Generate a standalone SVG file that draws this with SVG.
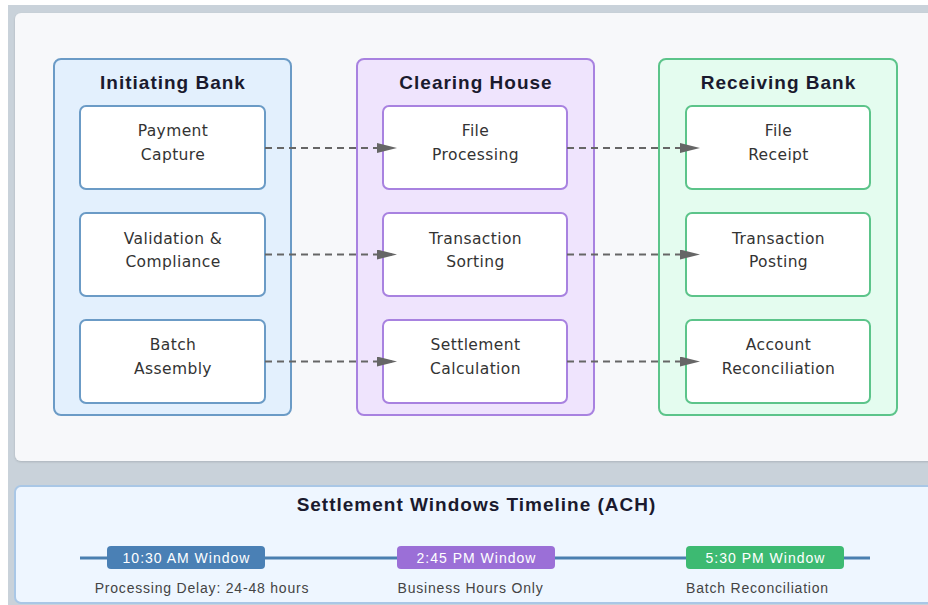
<svg xmlns="http://www.w3.org/2000/svg" width="928" height="605" viewBox="0 0 928 605">
<defs>
<marker id="ah" viewBox="0 0 20 10" refX="19" refY="5" markerWidth="20" markerHeight="10" markerUnits="userSpaceOnUse" orient="auto"><path d="M0,0 L20,5 L0,10 Z" fill="#666"/></marker>
<filter id="sh" x="-5%" y="-5%" width="110%" height="110%"><feDropShadow dx="0" dy="1" stdDeviation="1.2" flood-color="#000" flood-opacity="0.15"/></filter>
</defs>
<style>
.title{font-family:"Liberation Sans",Arial,sans-serif;font-weight:bold;font-size:19px;letter-spacing:1px;fill:#1a1a2e;text-anchor:middle}
.nt{font-family:"DejaVu Sans","Liberation Sans",sans-serif;font-size:15.5px;letter-spacing:0.4px;fill:#333;text-anchor:middle}
.node{fill:#fff;stroke-width:2}
.blue .node{stroke:#6b9bc6}
.purple .node{stroke:#a882e0}
.green .node{stroke:#5cc48a}
.conn line{stroke:#666;stroke-width:2;stroke-dasharray:7,5;marker-end:url(#ah)}
.pill{font-family:"Liberation Sans",Arial,sans-serif;font-size:14px;letter-spacing:1px;fill:#fff;text-anchor:middle}
.lbl{font-family:"Liberation Sans",Arial,sans-serif;font-size:14px;letter-spacing:0.8px;fill:#444;text-anchor:middle}
</style>
<rect x="0" y="0" width="928" height="605" fill="#fff"/>
<rect x="8" y="5" width="930" height="610" fill="#c9d2da"/>
<rect x="15" y="13" width="925" height="448" rx="6" fill="#f7f8fa" filter="url(#sh)"/>
<rect x="15" y="486" width="925" height="117" rx="6" fill="#eef6ff" stroke="#a9c7e6" stroke-width="2"/>

<g id="initiating-bank" class="blue">
<rect x="54" y="59" width="237" height="356" rx="7" fill="#e3f0fd" stroke="#6b9bc6" stroke-width="2"/>
<text class="title" x="173" y="89">Initiating Bank</text>
</g>
<g id="clearing-house" class="purple">
<rect x="357" y="59" width="237" height="356" rx="7" fill="#efe4fd" stroke="#a882e0" stroke-width="2"/>
<text class="title" x="476" y="89">Clearing House</text>
</g>
<g id="receiving-bank" class="green">
<rect x="659" y="59" width="238" height="356" rx="7" fill="#e4fcef" stroke="#5cc48a" stroke-width="2"/>
<text class="title" x="778.5" y="89">Receiving Bank</text>
</g>

<g id="payment-capture" class="blue"><rect class="node" x="80" y="106" width="185" height="83" rx="6"/><text class="nt" x="173" y="136">Payment</text><text class="nt" x="173" y="160">Capture</text></g>
<g id="validation-compliance" class="blue"><rect class="node" x="80" y="213" width="185" height="83" rx="6"/><text class="nt" x="173" y="243.5">Validation &amp;</text><text class="nt" x="173" y="266.5">Compliance</text></g>
<g id="batch-assembly" class="blue"><rect class="node" x="80" y="320" width="185" height="83" rx="6"/><text class="nt" x="173" y="350">Batch</text><text class="nt" x="173" y="374">Assembly</text></g>

<g id="file-processing" class="purple"><rect class="node" x="383" y="106" width="184" height="83" rx="6"/><text class="nt" x="475.5" y="136">File</text><text class="nt" x="475.5" y="160">Processing</text></g>
<g id="transaction-sorting" class="purple"><rect class="node" x="383" y="213" width="184" height="83" rx="6"/><text class="nt" x="475.5" y="243.5">Transaction</text><text class="nt" x="475.5" y="266.5">Sorting</text></g>
<g id="settlement-calculation" class="purple"><rect class="node" x="383" y="320" width="184" height="83" rx="6"/><text class="nt" x="475.5" y="350">Settlement</text><text class="nt" x="475.5" y="374">Calculation</text></g>

<g id="file-receipt" class="green"><rect class="node" x="686" y="106" width="184" height="83" rx="6"/><text class="nt" x="778.5" y="136">File</text><text class="nt" x="778.5" y="160">Receipt</text></g>
<g id="transaction-posting" class="green"><rect class="node" x="686" y="213" width="184" height="83" rx="6"/><text class="nt" x="778.5" y="243.5">Transaction</text><text class="nt" x="778.5" y="266.5">Posting</text></g>
<g id="account-reconciliation" class="green"><rect class="node" x="686" y="320" width="184" height="83" rx="6"/><text class="nt" x="778.5" y="350">Account</text><text class="nt" x="778.5" y="374">Reconciliation</text></g>

<g id="connectors" class="conn">
<line x1="265" y1="148" x2="396" y2="148"/>
<line x1="265" y1="254.5" x2="396" y2="254.5"/>
<line x1="265" y1="361.5" x2="396" y2="361.5"/>
<line x1="567" y1="148" x2="699" y2="148"/>
<line x1="567" y1="254.5" x2="699" y2="254.5"/>
<line x1="567" y1="361.5" x2="699" y2="361.5"/>
</g>

<g id="timeline">
<text class="title" x="476.5" y="511">Settlement Windows Timeline (ACH)</text>
<line x1="80" y1="558" x2="870" y2="558" stroke="#4a7fb0" stroke-width="3"/>
<g id="window-1030"><rect x="107" y="546" width="158" height="23" rx="4" fill="#4a80b5"/><text class="pill" x="186.5" y="563">10:30 AM Window</text><text class="lbl" x="202" y="593">Processing Delay: 24-48 hours</text></g>
<g id="window-245"><rect x="397" y="546" width="158" height="23" rx="4" fill="#9b6fd7"/><text class="pill" x="476.5" y="563">2:45 PM Window</text><text class="lbl" x="470.5" y="593">Business Hours Only</text></g>
<g id="window-530"><rect x="686" y="546" width="158" height="23" rx="4" fill="#3dba72"/><text class="pill" x="765.5" y="563">5:30 PM Window</text><text class="lbl" x="757.5" y="593">Batch Reconciliation</text></g>
</g>
</svg>
